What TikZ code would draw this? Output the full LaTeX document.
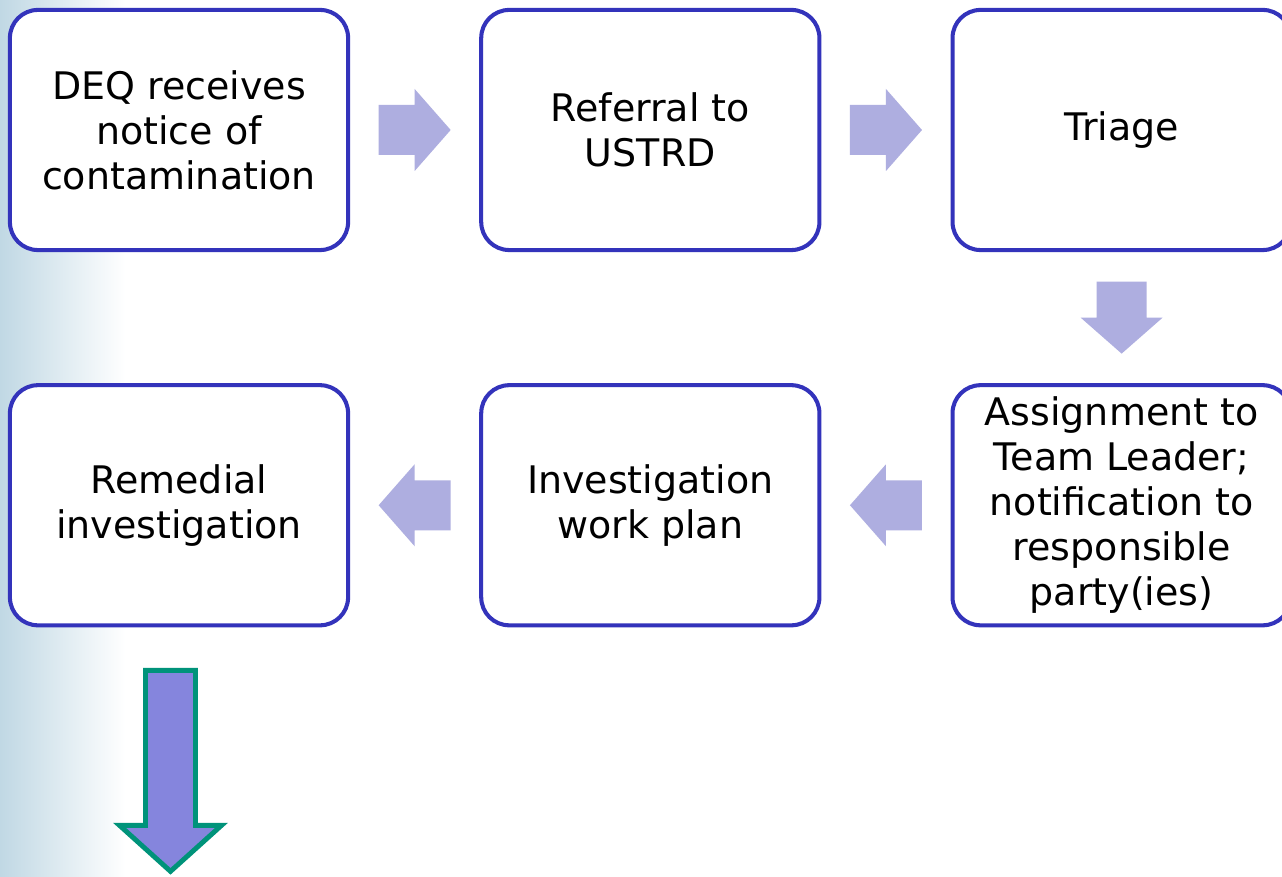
\documentclass[tikz,border=0pt]{standalone}
\usepackage{fontspec}
\setmainfont{DejaVu Sans}
\usetikzlibrary{positioning, calc}

\definecolor{boxblue}{RGB}{51,51,187}
\definecolor{arrowlilac}{RGB}{174,174,224}
\definecolor{bigfill}{RGB}{133,133,221}
\definecolor{biggreen}{RGB}{0,147,122}
\definecolor{bgblue}{RGB}{192,216,228}

\tikzset{
  stepbox/.style={draw=boxblue, line width=1.15pt, fill=white, rounded corners=0.28cm,
    minimum width=3.38cm, minimum height=2.40cm, inner sep=0pt, align=center,
    font=\fontsize{10.8}{12.8}\selectfont},
  bigarrow/.style={fill=bigfill, draw=biggreen, line width=1.4pt},
  pics/flowarrow/.style={code={
    \fill[arrowlilac] (-36,-25) -- (0,-25) -- (0,-41) -- (36,0) -- (0,41) -- (0,25) -- (-36,25) -- cycle;}},
}

\begin{document}
\begin{tikzpicture}[x=0.01cm, y=-0.01cm]
    \clip (0,0) rectangle (1282,877);
    \fill[white] (0,0) rectangle (1282,877);
    \fill[left color=bgblue, right color=white] (0,0) rectangle (125,877);

    % top row
    \node[stepbox] (notice) at (179,130) {DEQ receives\\notice of\\contamination};
    \node[stepbox, right=1.29cm of notice] (referral) {Referral to\\USTRD};
    \node[stepbox, right=1.29cm of referral] (triage) {Triage};
    % bottom row
    \node[stepbox, below=1.31cm of triage] (assign) {Assignment to\\Team Leader;\\notification to\\responsible\\party(ies)};
    \node[stepbox, left=1.29cm of assign] (workplan) {Investigation\\work plan};
    \node[stepbox, left=1.29cm of workplan] (remedial) {Remedial\\investigation};

    \pic at ($(notice.east)!0.5!(referral.west)$) {flowarrow};
    \pic at ($(referral.east)!0.5!(triage.west)$) {flowarrow};
    \pic[rotate=-90] at ($(triage.south)!0.5!(assign.north)$) {flowarrow};
    \pic[rotate=180] at ($(assign.west)!0.5!(workplan.east)$) {flowarrow};
    \pic[rotate=180] at ($(workplan.west)!0.5!(remedial.east)$) {flowarrow};

    \coordinate (outtop) at ($(remedial.south)+(-8.5,43)$);
    \draw[bigarrow] ($(outtop)+(-25,0)$) -- ++(50,0) -- ++(0,155) -- ++(26,0)
        -- ++(-51,46) -- ++(-51,-46) -- ++(26,0) -- cycle;
\end{tikzpicture}
\end{document}
